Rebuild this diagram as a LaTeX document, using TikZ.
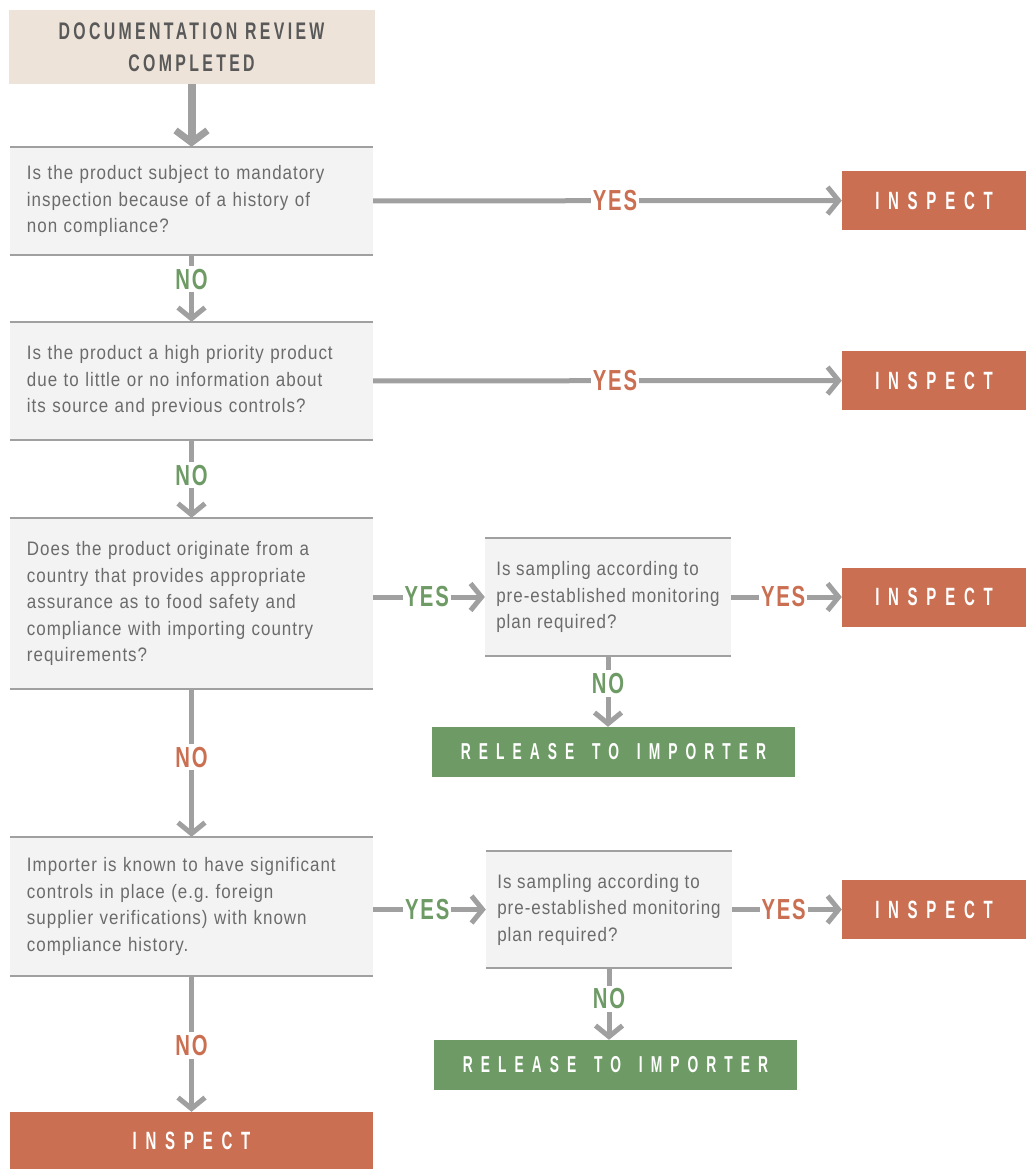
\documentclass[tikz,border=0pt]{standalone}
\usepackage{fontspec}
\usepackage{tikz}
\usetikzlibrary{
        arrows.meta,
        positioning
    }
\newfontfamily\bodyfont[FakeStretch=0.87,LetterSpace=5]{Liberation Sans}
\newfontfamily\answerfont[FakeStretch=0.7,LetterSpace=6]{Liberation Sans}
\newfontfamily\headfont[FakeStretch=0.66,LetterSpace=14]{Liberation Sans}
\newfontfamily\tagfont[FakeStretch=0.6,LetterSpace=35,WordSpace=1.5]{Liberation Sans}
\definecolor{inspectred}{HTML}{CB6F52}
\definecolor{releasegreen}{HTML}{6E9B65}
\definecolor{linegrey}{HTML}{A0A0A0}
\definecolor{qfill}{HTML}{F3F3F3}
\definecolor{beige}{HTML}{EDE3D9}
\definecolor{qtext}{HTML}{6B6B6B}
\definecolor{toptext}{HTML}{595959}

\begin{document}
\begin{tikzpicture}
[x=1pt, y=-1pt,
baseshape/.style={inner sep=0pt, text centered},
startbox/.style={baseshape, fill=beige, minimum width=366pt, minimum height=74pt, text=toptext,
  font={\headfont\bfseries\fontsize{24}{32}\selectfont}, align=center},
question/.style={baseshape, fill=qfill, inner xsep=17pt, align=left, text=qtext,
  font={\bodyfont\fontsize{19.5}{26.5}\selectfont}},
bigq/.style={question, text width=329pt},
smallq/.style={question, inner xsep=0pt, minimum width=246pt, xshift=3pt},
inspect/.style={baseshape, fill=inspectred, text=white, minimum width=184pt, minimum height=59pt,
  font={\tagfont\bfseries\fontsize{25}{25}\selectfont}},
release/.style={baseshape, fill=releasegreen, text=white, minimum width=363pt, minimum height=50pt,
  font={\tagfont\bfseries\fontsize{23}{23}\selectfont}},
boxline/.style={line width=2.5pt, linegrey},
arrow/.style={line width=5pt, linegrey, -{Straight Barb[length=11pt,width=27pt,line width=5pt]}},
answer/.style={fill=white, inner xsep=2pt, inner ysep=3pt, font={\answerfont\bfseries\fontsize{29}{29}\selectfont}},
yes/.style={answer, text=inspectred},
no/.style={answer, text=releasegreen},
okyes/.style={answer, text=releasegreen},
badno/.style={answer, text=inspectred}]
\useasboundingbox (0,0) rectangle (1026,1169);

\node (start) [startbox] at (191.5,47) {DOCUMENTATION REVIEW\\COMPLETED};
\node (q1) [bigq, minimum height=108pt] at (191.5,201) {Is the product subject to mandatory\\inspection because of a history of\\non compliance?};
\node (q2) [bigq, minimum height=118pt] at (191.5,381) {Is the product a high priority product\\due to little or no information about\\its source and previous controls?};
\node (q3) [bigq, minimum height=171pt] at (191.5,603.5) {Does the product originate from a\\country that provides appropriate\\assurance as to food safety and\\compliance with importing country\\requirements?};
\node (q4) [bigq, minimum height=139pt] at (191.5,906.5) {Importer is known to have significant\\controls in place (e.g.\ foreign\\supplier verifications) with known\\compliance history.};
\node (q3s) [smallq, minimum height=118pt] at (605,597) {Is sampling according to\\pre-established monitoring\\plan required?};
\node (q4s) [smallq, minimum height=117pt] at (606,909.5) {Is sampling according to\\pre-established monitoring\\plan required?};

\node (ins1) [inspect] at (934,200.5) {INSPECT};
\node (ins2) [inspect] at (934,380.5) {INSPECT};
\node (ins3) [inspect] at (934,597) {INSPECT};
\node (ins4) [inspect] at (934,909.5) {INSPECT};
\node (ins5) [inspect, minimum width=363pt, minimum height=57pt] at (191.5,1140.5) {INSPECT};
\node (rel1) [release] at (613.5,752) {RELEASE TO IMPORTER};
\node (rel2) [release] at (615.5,1065) {RELEASE TO IMPORTER};

% top and bottom rules of the question boxes
\foreach \q in {q1,q2,q3,q4,q3s,q4s}
  \draw[boxline] (\q.north west) -- (\q.north east) (\q.south west) -- (\q.south east);

\draw[arrow, line width=8pt, -{Straight Barb[length=12pt,width=32pt,line width=7pt]}] (start) -- (q1);
\draw[arrow] (q1) -- node[yes, pos=0.516]{YES} (ins1);
\draw[arrow] (q1) -- node[no, pos=0.36]{NO} (q2);
\draw[arrow] (q2) -- node[yes, pos=0.516]{YES} (ins2);
\draw[arrow] (q2) -- node[no, pos=0.45]{NO} (q3);
\draw[arrow] (q3s.west -| q3.east) -- node[okyes, pos=0.48]{YES} (q3s);
\draw[arrow] (q3s) -- node[yes, pos=0.47]{YES} (ins3);
\draw[arrow] (q3s.south) -- node[no, pos=0.39]{NO} (q3s.south |- rel1.north);
\draw[arrow] (q3) -- node[badno, pos=0.46]{NO} (q4);
\draw[arrow] (q4s.west -| q4.east) -- node[okyes, pos=0.48]{YES} (q4s);
\draw[arrow] (q4s) -- node[yes, pos=0.47]{YES} (ins4);
\draw[arrow] (q4s.south) -- node[no, pos=0.43]{NO} (q4s.south |- rel2.north);
\draw[arrow] (q4) -- node[badno, pos=0.51]{NO} (ins5);

\end{tikzpicture}
\end{document}
